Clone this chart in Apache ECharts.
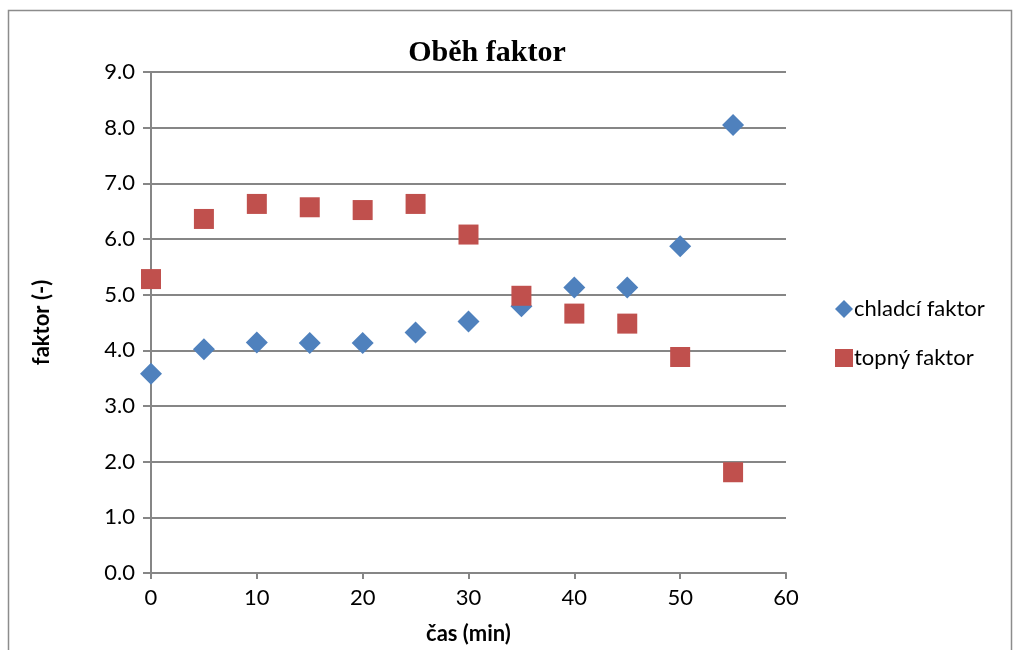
<!DOCTYPE html>
<html>
<head>
<meta charset="utf-8">
<script src="https://cdn.jsdelivr.net/npm/echarts@6/dist/echarts.min.js"></script>
<style>
html,body{margin:0;padding:0;background:#fff;}
#main{width:1015px;height:650px;}
</style>
</head>
<body>
<div id="main"></div>
<script>
var casMin = [0, 5, 10, 15, 20, 25, 30, 35, 40, 45, 50, 55];
var chladciFaktor = [3.58, 4.02, 4.14, 4.13, 4.13, 4.32, 4.52, 4.79, 5.13, 5.13, 5.87, 8.05];
var topnyFaktor = [5.28, 6.36, 6.63, 6.57, 6.52, 6.63, 6.08, 4.98, 4.66, 4.48, 3.88, 1.81];

var font = 'Lato, "Open Sans", sans-serif';

function pairs(xs, ys) {
	var out = [];
	for (var i = 0; i < xs.length; i++) out.push([xs[i], ys[i]]);
	return out;
}

var myChart = echarts.init(document.getElementById('main'));
var option = {
	backgroundColor: '#fff',
	animation: false,
	title: {
		text: 'Oběh faktor',
		left: 482,
		top: 33,
		textAlign: 'center',
		textStyle: {
			fontFamily: '"Liberation Serif", "DejaVu Serif", serif',
			fontWeight: 'bold',
			fontSize: 30,
			color: '#000'
		}
	},
	graphic: [{
		type: 'rect',
		shape: { x: 8.5, y: 10.5, width: 1003, height: 660 },
		style: { fill: 'none', stroke: '#8c8c8c', lineWidth: 1.5 },
		silent: true
	}],
	legend: {
		orient: 'vertical',
		left: 830,
		top: 293,
		itemGap: 27,
		itemWidth: 18,
		itemHeight: 18,
		textStyle: { fontFamily: font, fontSize: 22, color: '#000', padding: [0, 0, 0, -4] },
		data: [
			{ name: 'chladcí faktor', icon: 'diamond' },
			{ name: 'topný faktor', icon: 'rect' }
		]
	},
	grid: {
		left: 151,
		right: 229,
		top: 72,
		bottom: 76
	},
	xAxis: {
		type: 'value',
		min: 0,
		max: 60,
		interval: 10,
		name: 'čas (min)',
		nameLocation: 'middle',
		nameGap: 50,
		nameTextStyle: { fontFamily: font, fontWeight: 'bold', fontSize: 22, color: '#000' },
		axisLine: { show: true, lineStyle: { color: '#868686', width: 2 } },
		axisTick: { show: true, length: 6, lineStyle: { color: '#868686', width: 2 } },
		splitLine: { show: false },
		axisLabel: { fontFamily: font, fontSize: 22, color: '#000', margin: 14 }
	},
	yAxis: {
		type: 'value',
		min: 0,
		max: 9,
		interval: 1,
		name: 'faktor (-)',
		nameLocation: 'middle',
		nameGap: 98,
		nameTextStyle: { fontFamily: font, fontWeight: 'bold', fontSize: 22, color: '#000' },
		axisLine: { show: true, lineStyle: { color: '#868686', width: 2 } },
		axisTick: { show: true, length: 8, lineStyle: { color: '#868686', width: 2 } },
		splitLine: { show: true, lineStyle: { color: '#868686', width: 2 } },
		axisLabel: {
			fontFamily: font, fontSize: 22, color: '#000', margin: 16,
			formatter: function (v) { return v.toFixed(1); }
		}
	},
	series: [
		{
			name: 'chladcí faktor',
			type: 'scatter',
			symbol: 'diamond',
			symbolSize: 22,
			itemStyle: { color: '#4F81BD', opacity: 1 },
			data: pairs(casMin, chladciFaktor),
			z: 2
		},
		{
			name: 'topný faktor',
			type: 'scatter',
			symbol: 'rect',
			symbolSize: 20,
			itemStyle: { color: '#C0504D', opacity: 1 },
			data: pairs(casMin, topnyFaktor),
			z: 3
		}
	]
};
myChart.setOption(option);
</script>
</body>
</html>
